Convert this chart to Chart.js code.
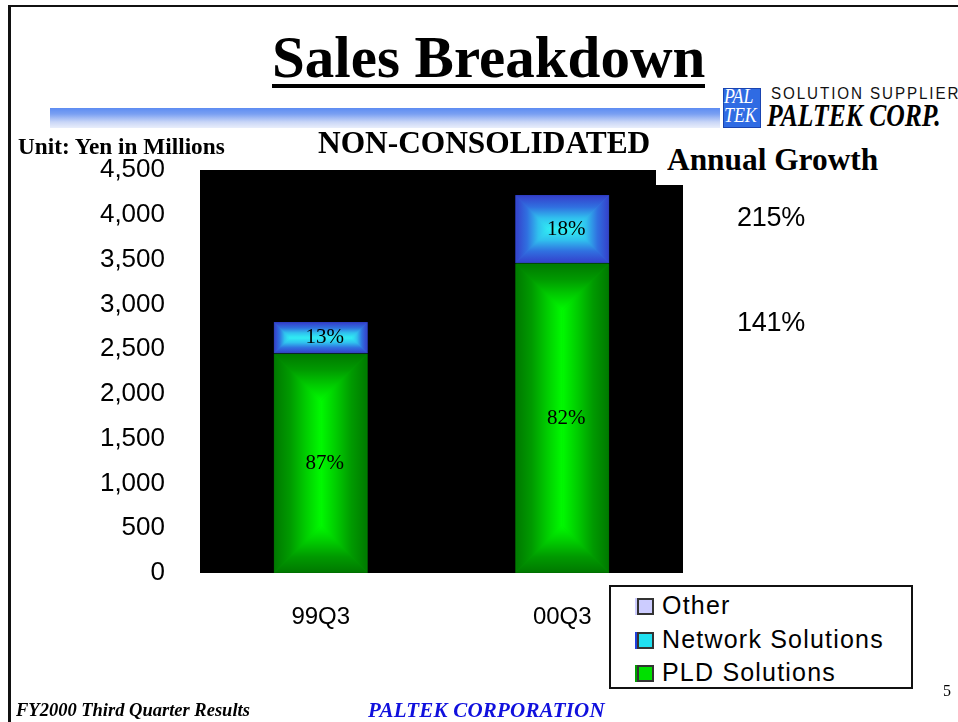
<!DOCTYPE html>
<html>
<head>
<meta charset="utf-8">
<script src="https://cdn.jsdelivr.net/npm/chart.js@4"></script>
<style>
  body { margin: 0; background: #fff; }
  #page { position: relative; width: 958px; height: 722px; overflow: hidden; background: #fff; }
  #page div { position: absolute; white-space: nowrap; }
  canvas { position: absolute; left: 0; top: 0; }
  .serif { font-family: 'Liberation Serif', 'Times New Roman', serif; }
  .sans { font-family: 'Liberation Sans', Arial, sans-serif; }
</style>
</head>
<body>
<div id="page">
  <div style="left:8px;top:5px;width:960px;height:730px;border-top:2px solid #111;border-left:3px solid #111;"></div>

  <div class="serif" style="left:272px;top:25px;font-size:59px;font-weight:bold;line-height:64px;">Sales Breakdown</div>
  <div style="left:272px;top:84px;width:433px;height:4px;background:#000;"></div>

  <div style="left:50px;top:108px;width:670px;height:20px;background:linear-gradient(#5d8cf2 0%, #7aa0f2 30%, #c9d6f7 70%, #e9eefb 100%);"></div>

  <!-- logo -->
  <div style="left:723px;top:88px;width:36px;height:38px;background:#2f6be3;border:1px solid #1a44b0;"></div>
  <div class="serif" style="left:724px;top:87px;color:#fff;font-style:italic;font-size:21px;line-height:19px;transform:scaleX(0.85);transform-origin:left;">PAL<br>TEK</div>
  <div class="sans" style="left:771px;top:85px;font-size:16px;letter-spacing:2px;color:#111;transform:scaleX(0.95);transform-origin:left;">SOLUTION SUPPLIER</div>
  <div class="serif" style="left:767px;top:99px;font-size:32px;font-weight:bold;font-style:italic;line-height:32px;transform:scaleX(0.8);transform-origin:left;">PALTEK CORP.</div>

  <canvas id="salesChart" width="958" height="722"></canvas>

  <div class="serif" style="left:18px;top:133px;font-size:24px;font-weight:bold;transform:scaleX(0.97);transform-origin:left;">Unit: Yen in Millions</div>
  <div class="serif" style="left:318px;top:124px;font-size:32px;font-weight:bold;transform:scaleX(0.98);transform-origin:left;">NON-CONSOLIDATED</div>
  <div class="serif" style="left:656px;top:140px;width:240px;height:45px;background:#fff;"></div>
  <div class="serif" style="left:667px;top:141px;font-size:32px;font-weight:bold;transform:scaleX(0.98);transform-origin:left;">Annual Growth</div>

  <div id="growth1" class="sans" style="left:737px;top:202px;font-size:27px;letter-spacing:-0.3px;"></div>
  <div id="growth2" class="sans" style="left:737px;top:307px;font-size:27px;letter-spacing:-0.3px;"></div>

  <div id="legendBox" class="sans" style="left:609px;top:585px;width:300px;height:100px;border:2px solid #111;background:#fff;"></div>

  <div class="serif" style="left:943px;top:682px;font-size:16px;">5</div>
  <div class="serif" style="left:16px;top:700px;font-size:18.5px;font-weight:bold;font-style:italic;">FY2000 Third Quarter Results</div>
  <div class="serif" style="left:368px;top:698px;font-size:21px;font-weight:bold;font-style:italic;color:#1010dd;letter-spacing:0.2px;">PALTEK CORPORATION</div>
</div>

<script>
// data (yen in millions)
const categories = ['99Q3', '00Q3'];
const pldSales = [2450, 3460];
const networkSales = [353, 760];
const otherSales = [0, 0];

const yMax = 4500;
const yStep = 500;

// black plot background
const plotBackground = {
    id: 'plotBackground',
    beforeDraw(chart) {
        const { ctx, chartArea } = chart;
        ctx.save();
        ctx.fillStyle = '#000';
        ctx.fillRect(chartArea.left, chartArea.top, chartArea.right - chartArea.left, chartArea.bottom - chartArea.top);
        ctx.restore();
    }
};

// rectangular "from center" gradient like the old PowerPoint fill
const boxGradient = {
    id: 'boxGradient',
    afterDatasetDraw(chart, args) {
        const ds = chart.data.datasets[args.index];
        if (!ds.shade) return;
        const ctx = chart.ctx;
        args.meta.data.forEach(el => {
            const p = el.getProps(['x', 'y', 'base', 'width'], true);
            const L = p.x - p.width / 2 + 1, R = p.x + p.width / 2 - 1;
            const T = Math.min(p.y, p.base) + 1, B = Math.max(p.y, p.base) - 1;
            if (B - T < 2) return;
            const m = Math.min(R - L, B - T) / 2;
            const sides = [
                { pts: [[L, T], [R, T], [R - m, T + m], [L + m, T + m]], g: [0, T, 0, T + m] },
                { pts: [[L, B], [R, B], [R - m, B - m], [L + m, B - m]], g: [0, B, 0, B - m] },
                { pts: [[L, T], [L + m, T + m], [L + m, B - m], [L, B]], g: [L, 0, L + m, 0] },
                { pts: [[R, T], [R - m, T + m], [R - m, B - m], [R, B]], g: [R, 0, R - m, 0] }
            ];
            ctx.save();
            sides.forEach(s => {
                const grad = ctx.createLinearGradient(...s.g);
                ds.shade.forEach((c, i) => grad.addColorStop(i / (ds.shade.length - 1), c));
                ctx.fillStyle = grad;
                ctx.strokeStyle = grad;
                ctx.lineWidth = 0.6;
                ctx.beginPath();
                s.pts.forEach((pt, i) => i ? ctx.lineTo(pt[0], pt[1]) : ctx.moveTo(pt[0], pt[1]));
                ctx.closePath();
                ctx.fill();
                ctx.stroke();
            });
            ctx.restore();
        });
    }
};

// percentage of total inside each segment
const shareLabels = {
    id: 'shareLabels',
    afterDatasetsDraw(chart) {
        const ctx = chart.ctx;
        const sets = chart.data.datasets;
        ctx.save();
        ctx.font = '21px "Liberation Serif", serif';
        ctx.fillStyle = '#000';
        ctx.textAlign = 'center';
        ctx.textBaseline = 'middle';
        sets.forEach((ds, di) => {
            if (!ds.showShare) return;
            const meta = chart.getDatasetMeta(di);
            meta.data.forEach((el, i) => {
                const total = sets.reduce((s, d) => s + d.data[i], 0);
                const pct = Math.round(ds.data[i] / total * 100) + '%';
                ctx.fillText(pct, el.x + 4, (el.y + el.base) / 2);
            });
        });
        ctx.restore();
    }
};

const ctx = document.getElementById('salesChart').getContext('2d');
const salesChart = new Chart(ctx, {
    type: 'bar',
    data: {
        labels: categories,
        datasets: [
            {
                label: 'PLD Solutions',
                data: pldSales,
                backgroundColor: '#00b000',
                borderColor: '#006a00',
                borderWidth: 1,
                borderSkipped: false,
                shade: ['#007a00', '#009a00', '#00cc00', '#00fa00'],
                legendColor: '#00e000',
                legendEdge: '#00a000',
                showShare: true
            },
            {
                label: 'Network Solutions',
                data: networkSales,
                backgroundColor: '#3a8de0',
                borderColor: '#2a3cc0',
                borderWidth: 1,
                borderSkipped: false,
                shade: ['#3442cc', '#3070e0', '#30c0ee', '#30eef4'],
                legendColor: '#20e0f0',
                legendEdge: '#2040e0',
                showShare: true
            },
            {
                label: 'Other',
                data: otherSales,
                backgroundColor: '#ccccff',
                borderWidth: 0,
                legendColor: '#ccccff',
                legendEdge: '#ccccff'
            }
        ]
    },
    options: {
        responsive: false,
        animation: false,
        layout: {
            padding: { left: 50, top: 170, right: 275, bottom: 89 }
        },
        datasets: {
            bar: { categoryPercentage: 1, barPercentage: 0.39 }
        },
        plugins: {
            legend: { display: false },
            tooltip: { enabled: false }
        },
        scales: {
            x: {
                stacked: true,
                grid: { display: false },
                border: { display: false },
                ticks: {
                    color: '#000',
                    padding: 22,
                    font: { family: 'Liberation Sans', size: 24 }
                },
                afterFit: s => { s.height = 60; }
            },
            y: {
                stacked: true,
                min: 0,
                max: yMax,
                grid: { display: false },
                border: { display: false },
                ticks: {
                    stepSize: yStep,
                    color: '#000',
                    padding: 27,
                    font: { family: 'Liberation Sans', size: 26 },
                    callback: v => v.toLocaleString('en-US')
                },
                afterFit: s => { s.width = 150; }
            }
        }
    },
    plugins: [plotBackground, boxGradient, shareLabels]
});

// annual growth, 00Q3 vs 99Q3
const growth = arr => Math.round(arr[1] / arr[0] * 100) + '%';
document.getElementById('growth1').textContent = growth(networkSales);
document.getElementById('growth2').textContent = growth(pldSales);

// legend, top item first like the slide
const legendBox = document.getElementById('legendBox');
salesChart.data.datasets.slice().reverse().forEach((ds, i) => {
    const row = document.createElement('div');
    row.style.cssText = `left:26px;top:${3 + i * 33.5}px;font-size:25px;letter-spacing:1.2px;line-height:30px;`;
    const sw = `<span style="position:absolute;left:0;top:8px;width:13px;height:13px;background:${ds.legendColor};border:2px solid #333;box-shadow:-2px 0 0 ${ds.legendEdge};"></span>`;
    row.innerHTML = sw + `<span style="padding-left:25px;">${ds.label}</span>`;
    legendBox.appendChild(row);
});
</script>
</body>
</html>
